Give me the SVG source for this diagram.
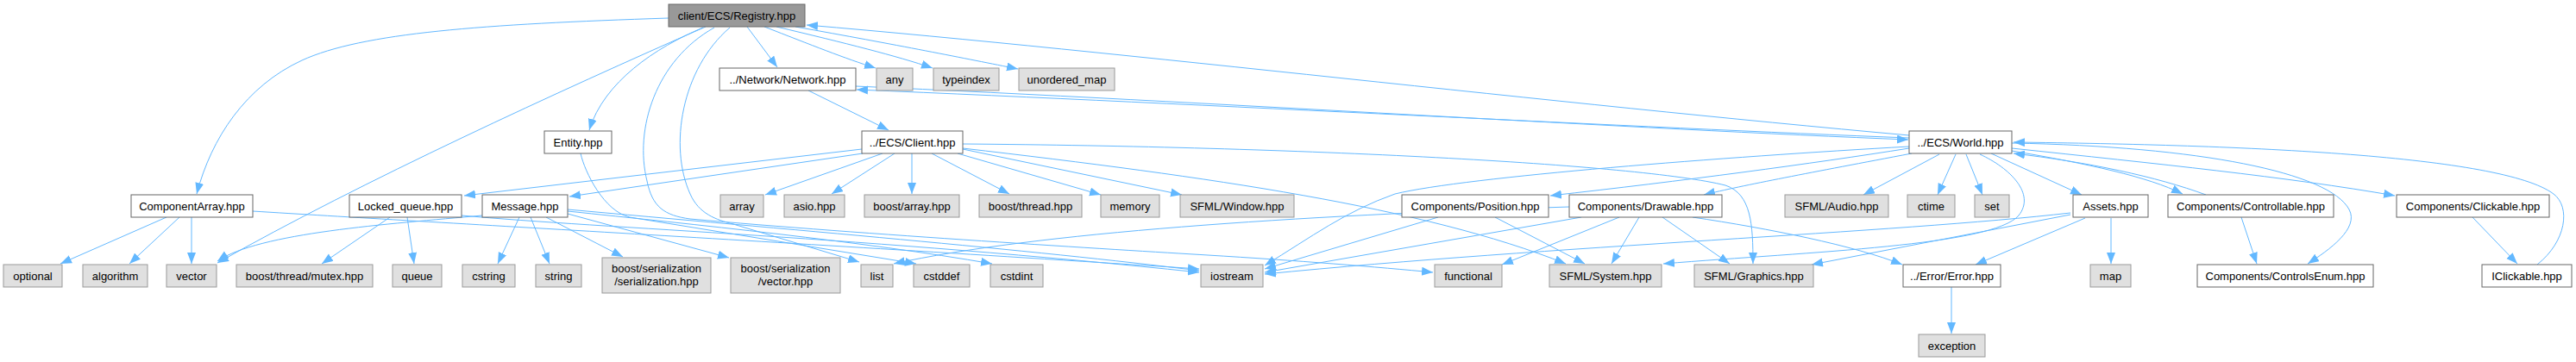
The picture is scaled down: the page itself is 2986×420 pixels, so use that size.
<svg xmlns="http://www.w3.org/2000/svg" width="2986" height="420" viewBox="0 0 2986 420">
<style>
.n rect{fill:#fff;stroke:#666;stroke-width:1}
.g rect{fill:#e0e0e0;stroke:#999;stroke-width:1}
.r rect{fill:#999;stroke:#666;stroke-width:1}
text{font-family:"Liberation Sans",Arial,sans-serif;font-size:13px;fill:#000;text-anchor:middle}
#edges path{fill:none;stroke:#63b8ff;stroke-width:1;marker-end:url(#a)}
</style>
<defs>
<marker id="a" markerUnits="userSpaceOnUse" markerWidth="14" markerHeight="11" refX="13" refY="5" orient="auto">
<path d="M0,0 L13,5 L0,10 z" fill="#63b8ff"/>
</marker>
</defs>
<rect width="2986" height="420" fill="#fff"/>
<g id="edges">
<path d="M775,21 C560,28 420,38 350,70 C285,100 245,160 228,225"/>
<path d="M818,31 C650,105 420,210 252,305"/>
<path d="M815,32 C760,55 700,95 683,151"/>
<path d="M866,31 L901,78"/>
<path d="M886,31 C940,52 980,68 1015,79"/>
<path d="M900,31 C980,50 1040,65 1081,79"/>
<path d="M922,31 C1040,52 1120,68 1180,80"/>
<path d="M828,32 C760,70 735,150 750,210 C756,240 770,250 800,254 C1000,272 1300,290 1400,296 C1500,302 1600,310 1661,316"/>
<path d="M846,32 C790,80 775,170 800,225 C810,248 830,255 850,260 L996,304"/>
<path d="M673,178 C678,200 700,245 730,252 L1062,306"/>
<path d="M937,105 L1030,151"/>
<path d="M992,100 C1400,118 1900,150 2212,162"/>
<path d="M2213,160 C1900,148 1400,121 993,104"/>
<path d="M2213,157 C1800,120 1300,60 935,29"/>
<path d="M999,173 L538,227"/>
<path d="M1000,178 L660,228"/>
<path d="M1023,178 L887,226"/>
<path d="M1037,178 L964,225"/>
<path d="M1057,178 L1057,225"/>
<path d="M1080,178 L1170,225"/>
<path d="M1110,178 L1276,226"/>
<path d="M1116,173 L1370,226"/>
<path d="M1116,172 C1400,205 1650,240 1815,306"/>
<path d="M1116,167 C1500,170 1900,190 2000,215 C2030,225 2032,260 2032,306"/>
<path d="M452,252 L373,306"/>
<path d="M472,252 L480,306"/>
<path d="M535,250 C700,265 1000,275 1390,316"/>
<path d="M602,252 L577,306"/>
<path d="M615,252 L637,306"/>
<path d="M633,252 L722,298"/>
<path d="M658,248 L845,299"/>
<path d="M559,250 C450,260 300,270 252,303"/>
<path d="M658,245 C800,260 1000,280 1150,306"/>
<path d="M658,243 C900,265 1200,290 1390,314"/>
<path d="M193,252 L70,306"/>
<path d="M208,252 L150,306"/>
<path d="M222,252 L222,306"/>
<path d="M293,245 C500,258 900,280 1390,312"/>
<path d="M2213,172 C2100,190 1950,210 1797,227"/>
<path d="M2216,178 C2100,200 2020,215 1975,226"/>
<path d="M2248,179 L2160,226"/>
<path d="M2267,179 L2246,226"/>
<path d="M2279,179 L2298,226"/>
<path d="M2308,178 L2413,226"/>
<path d="M2332,175 C2420,190 2490,205 2530,225"/>
<path d="M2557,226 C2500,205 2420,188 2334,178"/>
<path d="M2332,172 C2500,190 2650,205 2776,227"/>
<path d="M2332,166 C2550,170 2700,200 2723,243 C2735,265 2700,290 2675,306"/>
<path d="M2941,307 C2975,280 2980,240 2960,225 C2900,180 2600,168 2334,165"/>
<path d="M2295,179 C2330,195 2360,225 2340,250 C2310,285 2100,292 1928,306"/>
<path d="M2213,170 C2000,182 1700,205 1617,225 C1560,245 1520,275 1466,308"/>
<path d="M1667,252 L1466,312"/>
<path d="M1833,252 L1466,316"/>
<path d="M1819,240 C1500,250 1200,270 1036,306"/>
<path d="M1877,252 L1741,307"/>
<path d="M1900,252 L1868,306"/>
<path d="M1733,252 L1837,306"/>
<path d="M1927,252 L2005,306"/>
<path d="M1962,252 C2050,265 2150,285 2205,307"/>
<path d="M2400,247 C2200,270 1800,285 1466,318"/>
<path d="M2400,249 L2100,307"/>
<path d="M2417,253 L2290,307"/>
<path d="M2447,253 L2447,306"/>
<path d="M2262,333 L2262,387"/>
<path d="M2598,252 L2616,306"/>
<path d="M2866,252 L2918,306"/>
</g>
<g id="registry" class="r"><rect x="775" y="5" width="158" height="26"/><text x="854" y="22.5">client/ECS/Registry.hpp</text></g>
<g id="network" class="n"><rect x="834" y="79" width="158" height="26"/><text x="913" y="96.5">../Network/Network.hpp</text></g>
<g id="any" class="g"><rect x="1016" y="79" width="42" height="26"/><text x="1037" y="96.5">any</text></g>
<g id="typeindex" class="g"><rect x="1082" y="79" width="76" height="26"/><text x="1120" y="96.5">typeindex</text></g>
<g id="unordered_map" class="g"><rect x="1181" y="79" width="111" height="26"/><text x="1236.5" y="96.5">unordered_map</text></g>
<g id="entity" class="n"><rect x="631" y="152" width="78" height="26"/><text x="670" y="169.5">Entity.hpp</text></g>
<g id="client" class="n"><rect x="999" y="152" width="117" height="26"/><text x="1057.5" y="169.5">../ECS/Client.hpp</text></g>
<g id="world" class="n"><rect x="2213" y="152" width="119" height="26"/><text x="2272.5" y="169.5">../ECS/World.hpp</text></g>
<g id="componentarray" class="n"><rect x="152" y="226" width="141" height="26"/><text x="222.5" y="243.5">ComponentArray.hpp</text></g>
<g id="locked_queue" class="n"><rect x="405" y="226" width="130" height="26"/><text x="470" y="243.5">Locked_queue.hpp</text></g>
<g id="message" class="n"><rect x="559" y="226" width="99" height="26"/><text x="608.5" y="243.5">Message.hpp</text></g>
<g id="array" class="g"><rect x="835" y="226" width="50" height="26"/><text x="860" y="243.5">array</text></g>
<g id="asio" class="g"><rect x="909" y="226" width="70" height="26"/><text x="944" y="243.5">asio.hpp</text></g>
<g id="boost_array" class="g"><rect x="1002" y="226" width="110" height="26"/><text x="1057" y="243.5">boost/array.hpp</text></g>
<g id="boost_thread" class="g"><rect x="1135" y="226" width="119" height="26"/><text x="1194.5" y="243.5">boost/thread.hpp</text></g>
<g id="memory" class="g"><rect x="1276" y="226" width="68" height="26"/><text x="1310" y="243.5">memory</text></g>
<g id="sfml_window" class="g"><rect x="1368" y="226" width="132" height="26"/><text x="1434" y="243.5">SFML/Window.hpp</text></g>
<g id="position" class="n"><rect x="1625" y="226" width="170" height="26"/><text x="1710" y="243.5">Components/Position.hpp</text></g>
<g id="drawable" class="n"><rect x="1819" y="226" width="177" height="26"/><text x="1907.5" y="243.5">Components/Drawable.hpp</text></g>
<g id="sfml_audio" class="g"><rect x="2069" y="226" width="120" height="26"/><text x="2129" y="243.5">SFML/Audio.hpp</text></g>
<g id="ctime" class="g"><rect x="2211" y="226" width="55" height="26"/><text x="2238.5" y="243.5">ctime</text></g>
<g id="set" class="g"><rect x="2289" y="226" width="40" height="26"/><text x="2309" y="243.5">set</text></g>
<g id="assets" class="n"><rect x="2403" y="226" width="87" height="26"/><text x="2446.5" y="243.5">Assets.hpp</text></g>
<g id="controllable" class="n"><rect x="2513" y="226" width="192" height="26"/><text x="2609" y="243.5">Components/Controllable.hpp</text></g>
<g id="clickable" class="n"><rect x="2778" y="226" width="177" height="26"/><text x="2866.5" y="243.5">Components/Clickable.hpp</text></g>
<g id="optional" class="g"><rect x="4" y="307" width="68" height="26"/><text x="38" y="324.5">optional</text></g>
<g id="algorithm" class="g"><rect x="96" y="307" width="75" height="26"/><text x="133.5" y="324.5">algorithm</text></g>
<g id="vector" class="g"><rect x="193" y="307" width="58" height="26"/><text x="222" y="324.5">vector</text></g>
<g id="mutex" class="g"><rect x="274" y="307" width="158" height="26"/><text x="353" y="324.5">boost/thread/mutex.hpp</text></g>
<g id="queue" class="g"><rect x="455" y="307" width="57" height="26"/><text x="483.5" y="324.5">queue</text></g>
<g id="cstring" class="g"><rect x="536" y="307" width="61" height="26"/><text x="566.5" y="324.5">cstring</text></g>
<g id="string" class="g"><rect x="621" y="307" width="53" height="26"/><text x="647.5" y="324.5">string</text></g>
<g id="ser_ser" class="g"><rect x="698" y="299" width="126" height="41"/><text x="761" y="316">boost/serialization</text><text x="761" y="331">/serialization.hpp</text></g>
<g id="ser_vector" class="g"><rect x="847" y="299" width="127" height="41"/><text x="910.5" y="316">boost/serialization</text><text x="910.5" y="331">/vector.hpp</text></g>
<g id="list" class="g"><rect x="998" y="307" width="37" height="26"/><text x="1016.5" y="324.5">list</text></g>
<g id="cstddef" class="g"><rect x="1059" y="307" width="65" height="26"/><text x="1091.5" y="324.5">cstddef</text></g>
<g id="cstdint" class="g"><rect x="1148" y="307" width="61" height="26"/><text x="1178.5" y="324.5">cstdint</text></g>
<g id="iostream" class="g"><rect x="1392" y="307" width="72" height="26"/><text x="1428" y="324.5">iostream</text></g>
<g id="functional" class="g"><rect x="1663" y="307" width="78" height="26"/><text x="1702" y="324.5">functional</text></g>
<g id="sfml_system" class="g"><rect x="1796" y="307" width="130" height="26"/><text x="1861" y="324.5">SFML/System.hpp</text></g>
<g id="sfml_graphics" class="g"><rect x="1964" y="307" width="138" height="26"/><text x="2033" y="324.5">SFML/Graphics.hpp</text></g>
<g id="error" class="n"><rect x="2206" y="307" width="113" height="26"/><text x="2262.5" y="324.5">../Error/Error.hpp</text></g>
<g id="map" class="g"><rect x="2423" y="307" width="47" height="26"/><text x="2446.5" y="324.5">map</text></g>
<g id="controlsenum" class="n"><rect x="2547" y="307" width="204" height="26"/><text x="2649" y="324.5">Components/ControlsEnum.hpp</text></g>
<g id="iclickable" class="n"><rect x="2877" y="307" width="104" height="26"/><text x="2929" y="324.5">IClickable.hpp</text></g>
<g id="exception" class="g"><rect x="2224" y="388" width="77" height="26"/><text x="2262.5" y="405.5">exception</text></g>
</svg>
